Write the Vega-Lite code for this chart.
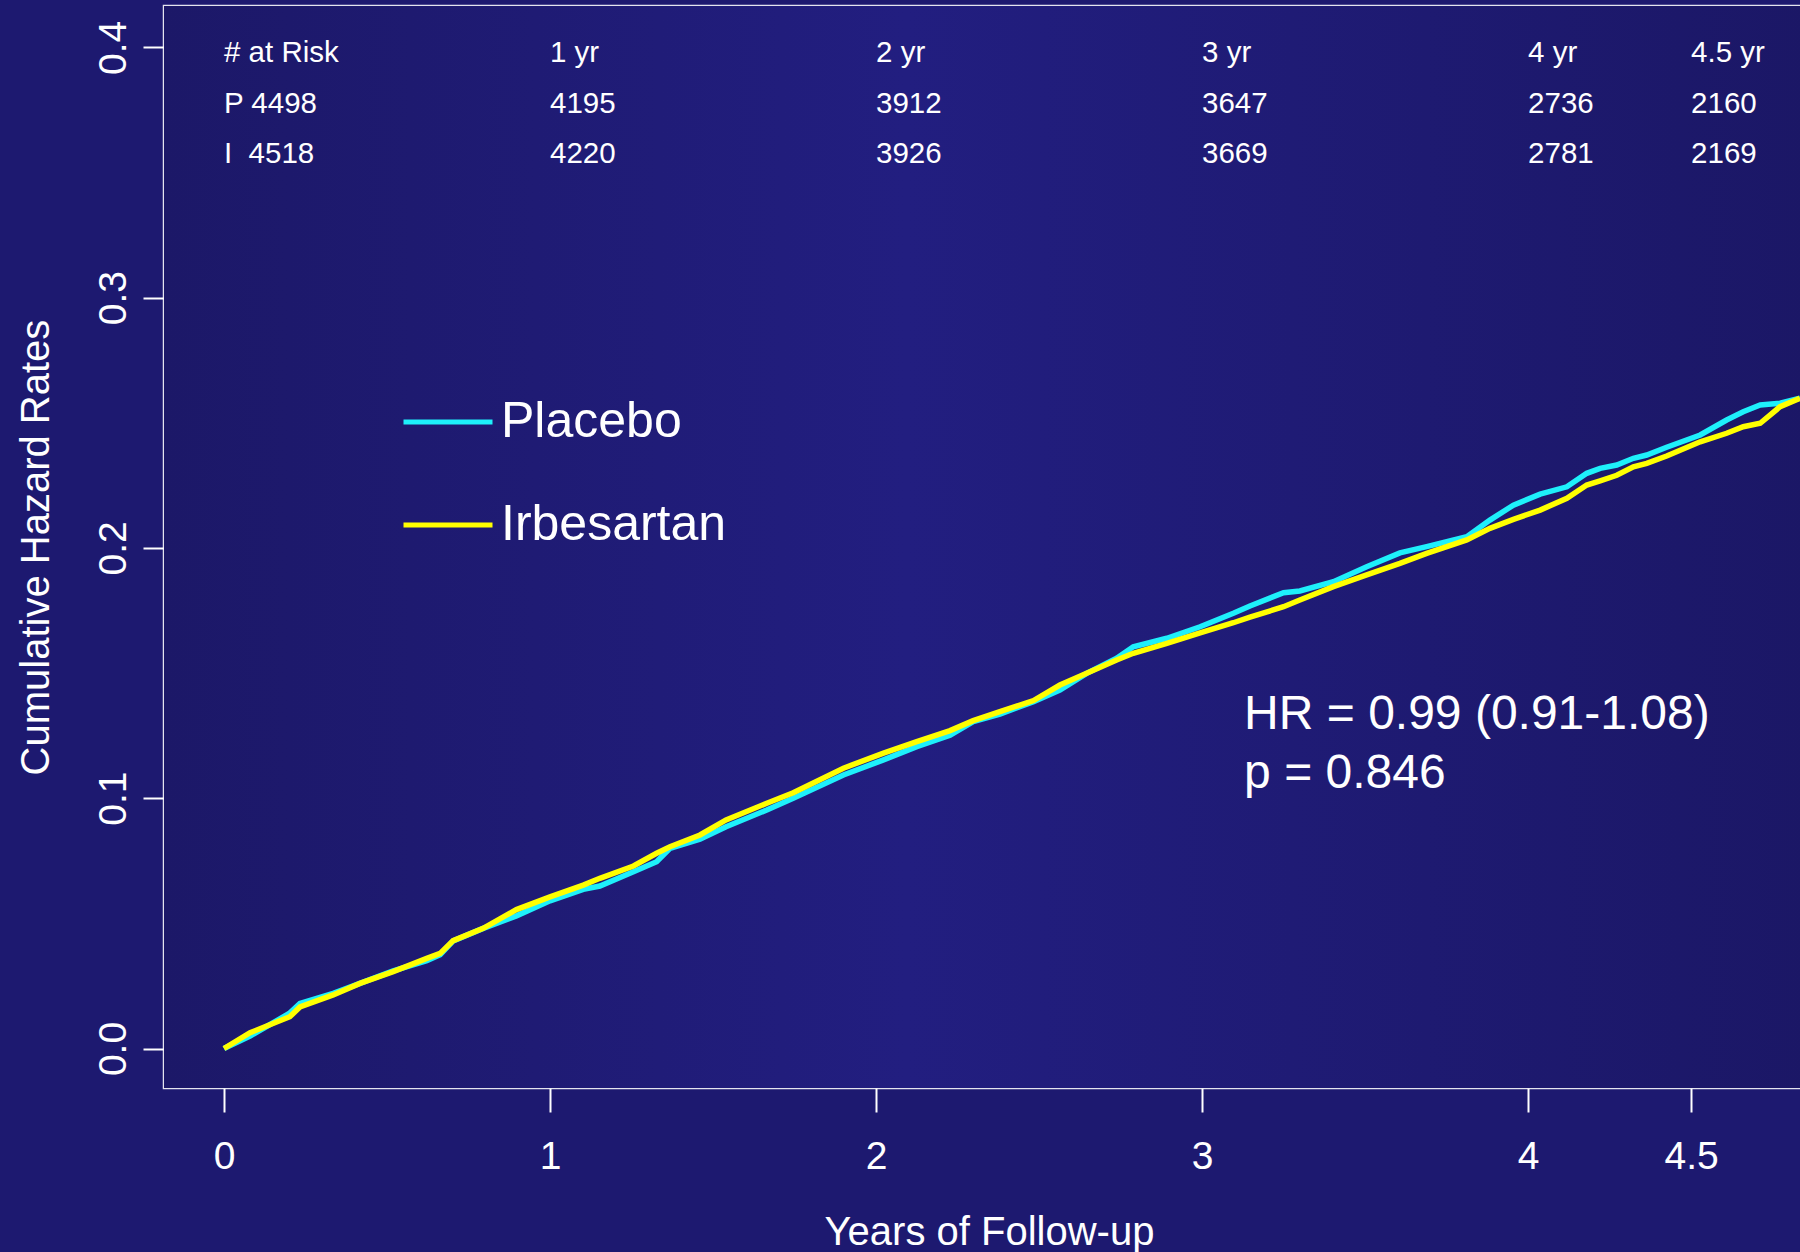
{
  "$schema": "https://vega.github.io/schema/vega-lite/v6.json",
  "width": 1650,
  "height": 1082,
  "autosize": {"type": "none"},
  "padding": {"left": 164, "top": 6, "right": 0, "bottom": 164},
  "background": "#1d1970",
  "config": {
    "font": "Liberation Sans",
    "view": {"stroke": "#e4e4ee", "strokeWidth": 2.5},
    "axis": {
      "domain": false, "grid": false,
      "tickColor": "#ffffff", "tickWidth": 2,
      "labelColor": "#ffffff", "titleColor": "#ffffff",
      "labelFont": "Liberation Sans", "titleFont": "Liberation Sans",
      "labelFontSize": 39, "titleFontSize": 40, "titleFontWeight": "normal"
    }
  },
  "datasets": {
    "curves": [
      {"yr": 0, "cum": 0, "series": "Placebo"},
      {"yr": 0.08, "cum": 0.005, "series": "Placebo"},
      {"yr": 0.2, "cum": 0.014, "series": "Placebo"},
      {"yr": 0.233, "cum": 0.018, "series": "Placebo"},
      {"yr": 0.335, "cum": 0.022, "series": "Placebo"},
      {"yr": 0.417, "cum": 0.026, "series": "Placebo"},
      {"yr": 0.519, "cum": 0.031, "series": "Placebo"},
      {"yr": 0.622, "cum": 0.0351, "series": "Placebo"},
      {"yr": 0.663, "cum": 0.0375, "series": "Placebo"},
      {"yr": 0.703, "cum": 0.043, "series": "Placebo"},
      {"yr": 0.795, "cum": 0.048, "series": "Placebo"},
      {"yr": 0.897, "cum": 0.053, "series": "Placebo"},
      {"yr": 1.0, "cum": 0.059, "series": "Placebo"},
      {"yr": 1.102, "cum": 0.0636, "series": "Placebo"},
      {"yr": 1.153, "cum": 0.0649, "series": "Placebo"},
      {"yr": 1.256, "cum": 0.0706, "series": "Placebo"},
      {"yr": 1.327, "cum": 0.0746, "series": "Placebo"},
      {"yr": 1.368, "cum": 0.08, "series": "Placebo"},
      {"yr": 1.46, "cum": 0.0836, "series": "Placebo"},
      {"yr": 1.54, "cum": 0.0886, "series": "Placebo"},
      {"yr": 1.665, "cum": 0.0953, "series": "Placebo"},
      {"yr": 1.746, "cum": 0.1, "series": "Placebo"},
      {"yr": 1.9, "cum": 0.1093, "series": "Placebo"},
      {"yr": 2.023, "cum": 0.1153, "series": "Placebo"},
      {"yr": 2.125, "cum": 0.1206, "series": "Placebo"},
      {"yr": 2.227, "cum": 0.1252, "series": "Placebo"},
      {"yr": 2.298, "cum": 0.1306, "series": "Placebo"},
      {"yr": 2.38, "cum": 0.1336, "series": "Placebo"},
      {"yr": 2.483, "cum": 0.1386, "series": "Placebo"},
      {"yr": 2.564, "cum": 0.1432, "series": "Placebo"},
      {"yr": 2.646, "cum": 0.1499, "series": "Placebo"},
      {"yr": 2.738, "cum": 0.1559, "series": "Placebo"},
      {"yr": 2.789, "cum": 0.1605, "series": "Placebo"},
      {"yr": 2.892, "cum": 0.1639, "series": "Placebo"},
      {"yr": 2.994, "cum": 0.1685, "series": "Placebo"},
      {"yr": 3.096, "cum": 0.1739, "series": "Placebo"},
      {"yr": 3.147, "cum": 0.1768, "series": "Placebo"},
      {"yr": 3.25, "cum": 0.1821, "series": "Placebo"},
      {"yr": 3.3, "cum": 0.1828, "series": "Placebo"},
      {"yr": 3.403, "cum": 0.1865, "series": "Placebo"},
      {"yr": 3.505, "cum": 0.1925, "series": "Placebo"},
      {"yr": 3.607, "cum": 0.198, "series": "Placebo"},
      {"yr": 3.689, "cum": 0.2005, "series": "Placebo"},
      {"yr": 3.812, "cum": 0.2045, "series": "Placebo"},
      {"yr": 3.883, "cum": 0.2111, "series": "Placebo"},
      {"yr": 3.955, "cum": 0.2171, "series": "Placebo"},
      {"yr": 4.037, "cum": 0.2215, "series": "Placebo"},
      {"yr": 4.119, "cum": 0.2244, "series": "Placebo"},
      {"yr": 4.18, "cum": 0.2298, "series": "Placebo"},
      {"yr": 4.221, "cum": 0.2318, "series": "Placebo"},
      {"yr": 4.272, "cum": 0.2331, "series": "Placebo"},
      {"yr": 4.323, "cum": 0.2358, "series": "Placebo"},
      {"yr": 4.364, "cum": 0.2371, "series": "Placebo"},
      {"yr": 4.425, "cum": 0.2402, "series": "Placebo"},
      {"yr": 4.528, "cum": 0.2451, "series": "Placebo"},
      {"yr": 4.609, "cum": 0.2511, "series": "Placebo"},
      {"yr": 4.66, "cum": 0.2544, "series": "Placebo"},
      {"yr": 4.712, "cum": 0.2571, "series": "Placebo"},
      {"yr": 4.773, "cum": 0.2578, "series": "Placebo"},
      {"yr": 4.834, "cum": 0.2598, "series": "Placebo"},
      {"yr": 0, "cum": 0, "series": "Irbesartan"},
      {"yr": 0.08, "cum": 0.0063, "series": "Irbesartan"},
      {"yr": 0.202, "cum": 0.0127, "series": "Irbesartan"},
      {"yr": 0.233, "cum": 0.0166, "series": "Irbesartan"},
      {"yr": 0.335, "cum": 0.0214, "series": "Irbesartan"},
      {"yr": 0.417, "cum": 0.026, "series": "Irbesartan"},
      {"yr": 0.519, "cum": 0.0307, "series": "Irbesartan"},
      {"yr": 0.622, "cum": 0.036, "series": "Irbesartan"},
      {"yr": 0.663, "cum": 0.038, "series": "Irbesartan"},
      {"yr": 0.703, "cum": 0.0431, "series": "Irbesartan"},
      {"yr": 0.795, "cum": 0.048, "series": "Irbesartan"},
      {"yr": 0.897, "cum": 0.0555, "series": "Irbesartan"},
      {"yr": 1.0, "cum": 0.0606, "series": "Irbesartan"},
      {"yr": 1.102, "cum": 0.0653, "series": "Irbesartan"},
      {"yr": 1.153, "cum": 0.068, "series": "Irbesartan"},
      {"yr": 1.256, "cum": 0.0729, "series": "Irbesartan"},
      {"yr": 1.327, "cum": 0.078, "series": "Irbesartan"},
      {"yr": 1.368, "cum": 0.0806, "series": "Irbesartan"},
      {"yr": 1.46, "cum": 0.0853, "series": "Irbesartan"},
      {"yr": 1.54, "cum": 0.0913, "series": "Irbesartan"},
      {"yr": 1.665, "cum": 0.098, "series": "Irbesartan"},
      {"yr": 1.746, "cum": 0.1022, "series": "Irbesartan"},
      {"yr": 1.9, "cum": 0.112, "series": "Irbesartan"},
      {"yr": 2.023, "cum": 0.118, "series": "Irbesartan"},
      {"yr": 2.125, "cum": 0.1226, "series": "Irbesartan"},
      {"yr": 2.227, "cum": 0.127, "series": "Irbesartan"},
      {"yr": 2.298, "cum": 0.131, "series": "Irbesartan"},
      {"yr": 2.38, "cum": 0.1346, "series": "Irbesartan"},
      {"yr": 2.483, "cum": 0.139, "series": "Irbesartan"},
      {"yr": 2.564, "cum": 0.1452, "series": "Irbesartan"},
      {"yr": 2.646, "cum": 0.1499, "series": "Irbesartan"},
      {"yr": 2.738, "cum": 0.1552, "series": "Irbesartan"},
      {"yr": 2.789, "cum": 0.1579, "series": "Irbesartan"},
      {"yr": 2.892, "cum": 0.1619, "series": "Irbesartan"},
      {"yr": 2.994, "cum": 0.1661, "series": "Irbesartan"},
      {"yr": 3.096, "cum": 0.1701, "series": "Irbesartan"},
      {"yr": 3.147, "cum": 0.1723, "series": "Irbesartan"},
      {"yr": 3.25, "cum": 0.1765, "series": "Irbesartan"},
      {"yr": 3.3, "cum": 0.1792, "series": "Irbesartan"},
      {"yr": 3.403, "cum": 0.1845, "series": "Irbesartan"},
      {"yr": 3.505, "cum": 0.1892, "series": "Irbesartan"},
      {"yr": 3.607, "cum": 0.1938, "series": "Irbesartan"},
      {"yr": 3.689, "cum": 0.1978, "series": "Irbesartan"},
      {"yr": 3.812, "cum": 0.2032, "series": "Irbesartan"},
      {"yr": 3.883, "cum": 0.2078, "series": "Irbesartan"},
      {"yr": 3.955, "cum": 0.2114, "series": "Irbesartan"},
      {"yr": 4.037, "cum": 0.2151, "series": "Irbesartan"},
      {"yr": 4.119, "cum": 0.2198, "series": "Irbesartan"},
      {"yr": 4.18, "cum": 0.2251, "series": "Irbesartan"},
      {"yr": 4.221, "cum": 0.2268, "series": "Irbesartan"},
      {"yr": 4.272, "cum": 0.229, "series": "Irbesartan"},
      {"yr": 4.323, "cum": 0.2324, "series": "Irbesartan"},
      {"yr": 4.364, "cum": 0.2338, "series": "Irbesartan"},
      {"yr": 4.425, "cum": 0.2367, "series": "Irbesartan"},
      {"yr": 4.528, "cum": 0.2424, "series": "Irbesartan"},
      {"yr": 4.609, "cum": 0.2458, "series": "Irbesartan"},
      {"yr": 4.66, "cum": 0.2484, "series": "Irbesartan"},
      {"yr": 4.712, "cum": 0.2498, "series": "Irbesartan"},
      {"yr": 4.773, "cum": 0.2564, "series": "Irbesartan"},
      {"yr": 4.834, "cum": 0.2598, "series": "Irbesartan"}
    ],
    "risk": [
      {"yr": 0, "lv": 0.3941, "label": "# at Risk"},
      {"yr": 1, "lv": 0.3941, "label": "1 yr"},
      {"yr": 2, "lv": 0.3941, "label": "2 yr"},
      {"yr": 3, "lv": 0.3941, "label": "3 yr"},
      {"yr": 4, "lv": 0.3941, "label": "4 yr"},
      {"yr": 4.5, "lv": 0.3941, "label": "4.5 yr"},
      {"yr": 0, "lv": 0.3738, "label": "P 4498"},
      {"yr": 1, "lv": 0.3738, "label": "4195"},
      {"yr": 2, "lv": 0.3738, "label": "3912"},
      {"yr": 3, "lv": 0.3738, "label": "3647"},
      {"yr": 4, "lv": 0.3738, "label": "2736"},
      {"yr": 4.5, "lv": 0.3738, "label": "2160"},
      {"yr": 0, "lv": 0.3538, "label": "I\u00a0\u00a04518"},
      {"yr": 1, "lv": 0.3538, "label": "4220"},
      {"yr": 2, "lv": 0.3538, "label": "3926"},
      {"yr": 3, "lv": 0.3538, "label": "3669"},
      {"yr": 4, "lv": 0.3538, "label": "2781"},
      {"yr": 4.5, "lv": 0.3538, "label": "2169"}
    ],
    "stats": [
      {"yr": 3.129, "lv": 0.1276, "label": "HR = 0.99 (0.91-1.08)"},
      {"yr": 3.129, "lv": 0.1041, "label": "p = 0.846"}
    ]
  },
  "layer": [
    {
      "data": {"values": [{}]},
      "mark": {
        "type": "rect",
        "color": {
          "gradient": "linear", "x1": 0, "x2": 1, "y1": 0, "y2": 0,
          "stops": [
            {"offset": 0, "color": "#1c1868"},
            {"offset": 0.45, "color": "#221e80"},
            {"offset": 1, "color": "#1b1766"}
          ]
        }
      },
      "encoding": {}
    },
    {
      "data": {"name": "curves"},
      "mark": {"type": "line", "strokeWidth": 5.5},
      "encoding": {
        "x": {
          "field": "yr", "type": "quantitative",
          "scale": {"domain": [-0.184, 4.877], "nice": false, "zero": false},
          "axis": {
            "title": "Years of Follow-up",
            "values": [0, 1, 2, 3, 4, 4.5],
            "labelExpr": "'' + datum.value",
            "tickSize": 24, "labelPadding": 25, "titlePadding": 36,
            "labelFlush": false, "labelOverlap": false
          }
        },
        "y": {
          "field": "cum", "type": "quantitative",
          "scale": {"domain": [-0.01578, 0.4165], "nice": false, "zero": false},
          "axis": {
            "title": "Cumulative Hazard Rates",
            "values": [0, 0.1, 0.2, 0.3, 0.4],
            "format": ".1f",
            "tickSize": 21, "labelPadding": 10, "titlePadding": 38,
            "labelAngle": 270, "labelAlign": "center", "labelBaseline": "bottom",
            "labelFlush": false, "labelOverlap": false
          }
        },
        "color": {
          "field": "series", "type": "nominal",
          "sort": ["Placebo", "Irbesartan"],
          "scale": {"domain": ["Placebo", "Irbesartan"], "range": ["#1ef0fb", "#ffff00"]},
          "legend": {
            "orient": "none", "legendX": 237, "legendY": 369,
            "title": null, "symbolType": "stroke", "symbolSize": 7921,
            "symbolStrokeWidth": 5, "labelFontSize": 50, "labelColor": "#ffffff",
            "labelFont": "Liberation Sans", "labelOffset": 6, "rowPadding": 31,
            "padding": 0, "labelLimit": 500
          }
        }
      }
    },
    {
      "data": {"name": "risk"},
      "mark": {"type": "text", "align": "left", "baseline": "alphabetic", "fontSize": 29.5, "color": "#ffffff", "font": "Liberation Sans"},
      "encoding": {
        "x": {"field": "yr", "type": "quantitative"},
        "y": {"field": "lv", "type": "quantitative"},
        "text": {"field": "label"}
      }
    },
    {
      "data": {"name": "stats"},
      "mark": {"type": "text", "align": "left", "baseline": "alphabetic", "fontSize": 48, "color": "#ffffff", "font": "Liberation Sans"},
      "encoding": {
        "x": {"field": "yr", "type": "quantitative"},
        "y": {"field": "lv", "type": "quantitative"},
        "text": {"field": "label"}
      }
    }
  ]
}
